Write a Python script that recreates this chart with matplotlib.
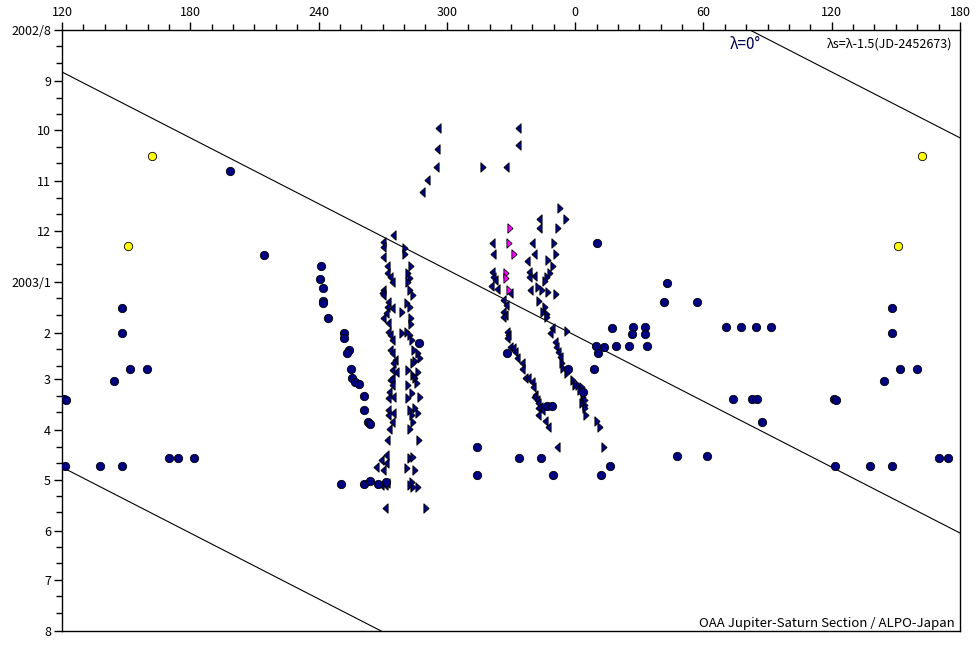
import matplotlib
matplotlib.use("Agg")
import matplotlib.pyplot as plt
import numpy as np

plt.rcParams['font.family'] = ['Noto Sans CJK JP', 'DejaVu Sans']

# ---- data: longitude (deg, System II) and days since 2002-08-01 ----
circle_lon = [120.9, 121.9, 121.4, 137.8, 144.3, 148.1, 148.1, 148.1, 151.8, 159.8,
              170.0, 174.3, 181.7, 198.6, 214.5,
              241.1, 240.7, 242.1, 242.1, 242.1, 244.6, 252.0, 252.0, 254.4, 253.4,
              255.3, 255.8, 257.0, 259.0, 261.4, 261.4, 263.1, 264.1, 250.6, 261.4,
              264.2, 267.7, 271.5, 287.0,
              10.1, 9.6, 13.6, 10.8, 9.0, 328.0, 356.8, 3.5, 346.7, 349.3,
              314.2, 314.2, 333.9, 344.0, 349.5, 11.9, 16.4,
              43.0, 41.6, 57.0, 17.2, 27.1, 32.7, 26.6, 32.7, 19.1, 25.2, 33.6,
              70.6, 77.6, 84.6, 91.6, 73.8, 82.7, 85.1, 87.4, 47.6, 61.7]
circle_day = [224.1, 224.7, 264.7, 264.7, 213.1, 168.8, 184.0, 264.7, 205.8, 205.8,
              259.9, 259.9, 259.9, 85.6, 136.6,
              143.1, 151.2, 156.7, 164.6, 165.8, 175.1, 183.8, 187.2, 194.3, 196.3,
              206.0, 211.5, 213.6, 215.1, 222.2, 230.7, 237.8, 239.2, 275.9, 275.9,
              273.8, 275.9, 274.3, 190.2,
              129.2, 191.9, 192.3, 196.3, 206.0, 196.3, 206.0, 219.6, 228.3, 228.3,
              253.0, 270.2, 260.1, 260.1, 270.2, 270.2, 264.7,
              153.6, 165.2, 165.2, 180.9, 180.3, 180.3, 184.6, 184.6, 191.9, 191.9, 191.9,
              180.3, 180.3, 180.3, 180.3, 224.1, 224.1, 224.1, 238.0, 258.7, 258.7]

yellow_lon = [150.9, 162.1]
yellow_day = [131.2, 76.5]

left_lon = [274.7, 270.0, 270.3, 270.3, 271.9, 272.1, 273.4, 274.2, 270.0, 269.5,
            270.0, 272.6, 272.1, 274.2, 270.0, 271.5, 272.3, 272.6, 273.4, 274.2,
            273.4, 274.2, 275.7, 275.0, 274.2, 276.2, 274.2, 273.4, 274.2, 273.1,
            272.6, 275.0, 272.6, 272.3, 274.7, 274.2, 273.1, 272.1, 271.5, 269.2,
            271.5, 266.9, 270.0, 269.2, 271.1, 272.1, 271.1,
            296.0, 295.5, 295.1, 290.6, 288.2,
            333.1, 333.1, 327.5, 343.1, 343.2, 321.0, 339.7, 321.7, 340.9, 337.6,
            321.0, 321.7, 322.5, 338.4, 338.4, 340.9, 320.5, 323.6, 329.5, 338.9,
            326.4, 327.7, 326.4, 327.2, 326.4, 328.0, 328.7, 328.0, 349.0, 348.2,
            329.5, 330.8, 331.9, 332.7, 335.0, 335.0, 350.6, 351.0, 352.1, 352.9,
            336.5, 338.1, 339.7, 340.1, 341.2, 340.9, 342.0, 342.8, 343.6, 342.8,
            344.4, 342.8, 345.9, 347.4, 351.4]
left_day = [124.5, 128.5, 131.6, 137.7, 143.1, 147.7, 149.8, 152.8, 157.9, 159.9,
            160.9, 165.0, 168.0, 169.0, 174.7, 172.0, 178.1, 183.6, 185.2, 188.2,
            194.3, 196.3, 200.4, 202.4, 206.4, 207.5, 211.5, 212.5, 215.6, 219.6,
            223.6, 222.7, 230.7, 233.8, 232.7, 237.8, 242.5, 249.0, 258.1, 261.1,
            263.1, 265.5, 267.2, 276.3, 276.3, 275.2, 290.1,
            59.7, 72.4, 83.0, 91.1, 98.2,
            59.7, 69.8, 83.0, 114.8, 120.4, 129.2, 129.2, 136.2, 136.2, 140.3,
            147.1, 149.8, 151.8, 147.1, 149.8, 149.2, 155.3, 157.3, 159.9, 157.9,
            163.9, 167.0, 171.4, 173.1, 174.1, 183.2, 185.2, 187.2, 181.1, 184.2,
            192.3, 193.3, 195.3, 199.3, 202.4, 206.0, 189.3, 192.3, 195.3, 198.4,
            211.5, 211.5, 213.6, 216.6, 221.6, 222.7, 224.7, 226.7, 228.7, 229.7,
            230.7, 233.8, 237.4, 240.9, 253.0]

right_lon = [280.4, 280.4, 283.2, 282.0, 282.8, 282.0, 282.8, 284.0, 281.5, 282.8,
             279.2, 283.2, 283.2, 278.9, 281.2, 282.8, 283.6, 284.8, 286.6, 287.4,
             285.1, 284.3, 282.0, 286.6, 284.3, 285.1, 285.9, 282.0, 282.0, 283.6,
             287.4, 282.8, 283.6, 285.1, 286.6, 284.3, 282.8, 287.1, 282.8, 284.0,
             281.2, 285.1, 282.8, 284.3, 286.6, 283.6, 290.2,
             317.0, 352.9, 355.6, 352.1, 350.2, 351.0, 347.4, 349.5, 348.2, 347.0,
             345.9, 342.8, 344.4, 347.4, 350.9, 343.2, 345.9, 344.8, 346.7, 347.0,
             356.1, 353.7, 354.5, 356.1, 359.1, 359.9, 1.5, 3.1, 2.3, 3.8,
             4.6, 3.1, 4.6, 4.6, 5.1, 10.1, 11.6, 13.5]
right_day = [132.2, 136.2, 143.1, 147.7, 150.8, 152.8, 157.9, 160.9, 165.6, 168.0,
             171.4, 175.1, 178.5, 184.2, 183.2, 185.2, 188.2, 194.3, 196.3, 199.3,
             201.0, 202.4, 206.4, 207.5, 209.5, 211.5, 214.5, 215.6, 223.6, 220.6,
             222.7, 230.7, 233.8, 229.7, 232.7, 237.8, 242.5, 249.0, 260.1, 259.5,
             266.1, 267.2, 276.3, 277.3, 277.3, 274.3, 290.1,
             83.0, 108.1, 114.8, 120.4, 129.2, 136.2, 139.7, 143.3, 147.7, 149.8,
             152.4, 155.9, 157.9, 158.9, 160.5, 164.6, 168.0, 171.0, 172.6, 174.1,
             182.8, 202.4, 205.4, 208.5, 212.5, 215.6, 215.6, 216.6, 218.6, 222.7,
             224.7, 226.7, 227.7, 229.7, 233.8, 237.4, 240.9, 253.0]

magenta_lon = [329.5, 329.2, 331.5, 327.7, 327.7, 329.2]
magenta_day = [120.4, 129.2, 136.2, 147.7, 150.4, 157.9]

# axis: longitude 120 -> 540 (wrapping), time 2002/8/1 -> 2003/8/1
LON_MIN, LON_MAX = 120, 540
month_days = [0, 31, 61, 92, 122, 153, 184, 212, 243, 273, 304, 334, 365]
month_labels = ['2002/8', '9', '10', '11', '12', '2003/1', '2', '3', '4', '5', '6', '7', '8']
JD0 = 2452487.5   # JD of 2002-08-01 0h
JD_REF = 2452673
DRIFT = 1.5


def wrap(lons, days):
    xs, ys = [], []
    for l, d in zip(lons, days):
        base = l if l >= LON_MIN else l + 360
        for v in (base, base + 360):
            if LON_MIN <= v <= LON_MAX:
                xs.append(v)
                ys.append(d)
    return xs, ys


fig = plt.figure(figsize=(9.8, 6.5), dpi=100)
ax = fig.add_axes([62 / 980, 19 / 650, 898 / 980, 601 / 650])
ax.set_xlim(LON_MIN, LON_MAX)
ax.set_ylim(365, 0)

# drift lines  lambda_s = lambda - 1.5 (JD - 2452673) = 0
dd = np.linspace(0, 365, 200)
for k in (-1, 0, 1):
    lam = 360 + DRIFT * (JD0 + dd - JD_REF) + 360 * k
    ax.plot(lam, dd, color='black', lw=0.8, zorder=2, clip_on=True)

tri_left = [(-0.5, 0.0), (0.5, 0.9), (0.5, -0.9), (-0.5, 0.0)]
tri_right = [(0.5, 0.0), (-0.5, 0.9), (-0.5, -0.9), (0.5, 0.0)]
navy = '#000080'

x, y = wrap(left_lon, left_day)
ax.scatter(x, y, marker=tri_left, s=46, c=navy, edgecolors='black', linewidths=0.6, zorder=3)
x, y = wrap(right_lon, right_day)
ax.scatter(x, y, marker=tri_right, s=46, c=navy, edgecolors='black', linewidths=0.6, zorder=3)
x, y = wrap(magenta_lon, magenta_day)
ax.scatter(x, y, marker=tri_right, s=46, c='#ff00ff', edgecolors='black', linewidths=0.6, zorder=4)
x, y = wrap(circle_lon, circle_day)
ax.scatter(x, y, marker='o', s=36, c=navy, edgecolors='black', linewidths=0.6, zorder=3)
x, y = wrap(yellow_lon, yellow_day)
ax.scatter(x, y, marker='o', s=36, c='#ffff00', edgecolors='black', linewidths=0.6, zorder=3)

# x ticks on top
ax.xaxis.tick_top()
major_x = np.arange(120, 541, 60)
ax.set_xticks(major_x)
ax.set_xticklabels([str(int(v % 360)) for v in major_x])
ax.set_xticks(np.arange(120, 541, 10), minor=True)

# y ticks on left
ax.set_yticks(month_days)
ax.set_yticklabels(month_labels)
minor_y = []
for i in range(12):
    minor_y += [month_days[i] + 10, month_days[i] + 20]
ax.set_yticks(minor_y, minor=True)

ax.tick_params(axis='both', which='major', direction='out', length=6, width=1,
               labelsize=9, pad=2)
ax.tick_params(axis='both', which='minor', direction='out', length=4, width=1)
ax.tick_params(axis='x', which='both', top=True, bottom=False)
ax.tick_params(axis='y', which='both', left=True, right=False)

for side in ('top', 'left', 'right', 'bottom'):
    ax.spines[side].set_linewidth(1.0)

ax.text(0.7606, 0.9767, 'λ=0°', transform=ax.transAxes, ha='center', va='center',
        fontsize=11, color='#000050')
ax.text(0.991, 0.9767, 'λs=λ-1.5(JD-2452673)', transform=ax.transAxes, ha='right',
        va='center', fontsize=9, color='black')
ax.text(0.9944, 0.0133, 'OAA Jupiter-Saturn Section / ALPO-Japan', transform=ax.transAxes,
        ha='right', va='center', fontsize=9.5, color='black')

fig.savefig('out.png', dpi=100)
